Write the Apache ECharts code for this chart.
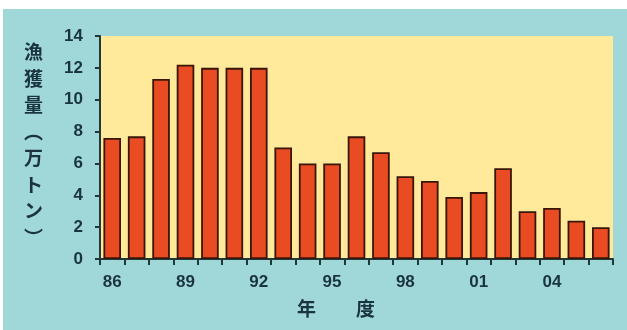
<!DOCTYPE html>
<html>
<head>
<meta charset="utf-8">
<script src="https://cdn.jsdelivr.net/npm/echarts@6/dist/echarts.min.js"></script>
<style>
  html, body { margin: 0; padding: 0; background: #ffffff; }
  #chart { width: 627px; height: 330px; }
</style>
</head>
<body>
<div id="chart"></div>
<script>
// Fiscal years (two-digit labels)
const years = ['86','87','88','89','90','91','92','93','94','95','96','97','98','99','00','01','02','03','04','05','06'];
// Catch volume, 10,000 tonnes
const catchVolume = [7.6, 7.7, 11.3, 12.2, 12.0, 12.0, 12.0, 7.0, 6.0, 6.0, 7.7, 6.7, 5.2, 4.9, 3.9, 4.2, 5.7, 3.0, 3.2, 2.4, 2.0];
// Y-axis title, one character per line
const yTitleChars = ['漁', '獲', '量', '︵', '万', 'ト', 'ン', '︶'];
// X-axis title, two spaced characters
const xTitleChars = ['年', '度'];

const textColor = '#1a3340';
const axisColor = '#1f3838';
const titleFont = 'bold 19px "Noto Sans CJK JP"';

const chart = echarts.init(document.getElementById('chart'), null, { renderer: 'canvas' });
chart.setOption({
  animation: false,
  backgroundColor: '#ffffff',
  graphic: [
    { type: 'rect', z: -10, shape: { x: 3, y: 9, width: 624, height: 321 }, style: { fill: '#a0d8da' } },
    {
      type: 'text', left: 24, top: 39, z: 10,
      style: { text: yTitleChars.join('\n'), font: titleFont, fill: textColor, lineHeight: 26.5, align: 'center' }
    },
    { type: 'text', left: 297, top: 299, z: 10, style: { text: xTitleChars[0], font: titleFont, fill: textColor } },
    { type: 'text', left: 356, top: 299, z: 10, style: { text: xTitleChars[1], font: titleFont, fill: textColor } }
  ],
  grid: { left: 100, right: 14, top: 36, bottom: 71, show: true, backgroundColor: '#ffe99a', borderWidth: 0 },
  xAxis: {
    type: 'category',
    data: years,
    boundaryGap: true,
    axisLine: { lineStyle: { color: axisColor, width: 2 } },
    axisTick: { show: true, length: 6, alignWithLabel: false, interval: 0, lineStyle: { color: axisColor, width: 2 } },
    axisLabel: { interval: 2, color: textColor, fontFamily: 'Liberation Sans', fontWeight: 'bold', fontSize: 17, margin: 15 },
    splitLine: { show: false }
  },
  yAxis: {
    type: 'value',
    min: 0, max: 14, interval: 2,
    axisLine: { show: true, lineStyle: { color: axisColor, width: 2 } },
    axisTick: { show: true, length: 5, lineStyle: { color: axisColor, width: 2 } },
    axisLabel: { color: textColor, fontFamily: 'Liberation Sans', fontWeight: 'bold', fontSize: 17, margin: 17 },
    splitLine: { show: false }
  },
  series: [{
    type: 'bar',
    data: catchVolume,
    barWidth: '72%',
    itemStyle: { color: '#e94b22', borderColor: '#3a1608', borderWidth: 1.8 }
  }]
});
</script>
</body>
</html>
